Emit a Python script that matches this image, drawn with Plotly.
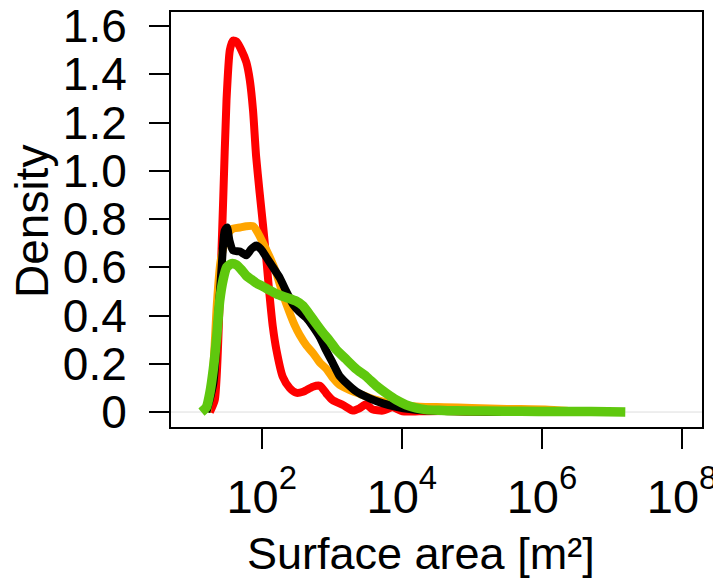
import plotly.graph_objects as go

# log10(surface area) positions and density values
red_logx = [1.26, 1.33, 1.40, 1.45, 1.497, 1.545, 1.59, 1.64, 1.71, 1.78, 1.83, 1.876, 1.92, 1.97,
            2.02, 2.07, 2.11, 2.16, 2.21, 2.30, 2.40, 2.49, 2.59, 2.73, 2.83, 2.92, 3.01, 3.16,
            3.30, 3.395, 3.49, 3.58, 3.73, 3.87, 4.01, 4.25, 4.6, 5.0, 5.4]
red_dens = [0.0, 0.05, 0.46, 0.88, 1.29, 1.50, 1.54, 1.535, 1.50, 1.45, 1.376, 1.25, 1.06, 0.91,
            0.77, 0.62, 0.49, 0.35, 0.257, 0.146, 0.099, 0.08, 0.084, 0.105, 0.109, 0.078, 0.05, 0.029,
            0.006, 0.015, 0.032, 0.011, 0.006, 0.02, 0.003, 0.003, 0.004, 0.001, 0.0]

orange_logx = [1.22, 1.30, 1.36, 1.41, 1.47, 1.52, 1.59, 1.69, 1.78, 1.88, 1.95, 2.02, 2.11, 2.21,
               2.30, 2.40, 2.47, 2.54, 2.64, 2.73, 2.83, 2.92, 3.02, 3.11, 3.25, 3.40, 3.59, 3.78,
               3.97, 4.25, 4.6, 5.0, 5.5, 6.1, 6.6]
orange_dens = [0.0, 0.15, 0.45, 0.62, 0.70, 0.74, 0.76, 0.765, 0.77, 0.77, 0.74, 0.70, 0.645, 0.575,
               0.49, 0.41, 0.36, 0.32, 0.275, 0.245, 0.205, 0.18, 0.14, 0.113, 0.092, 0.075, 0.054, 0.04,
               0.03, 0.022, 0.02, 0.017, 0.013, 0.01, 0.0]

black_logx = [1.21, 1.31, 1.38, 1.43, 1.47, 1.505, 1.54, 1.59, 1.69, 1.78, 1.85, 1.92, 1.99,
              2.07, 2.16, 2.26, 2.35, 2.45, 2.54, 2.64, 2.73, 2.83, 2.92, 3.02, 3.11, 3.21, 3.35,
              3.54, 3.73, 3.92, 4.11, 4.3, 4.6, 5.0, 5.5]
black_dens = [0.0, 0.12, 0.40, 0.61, 0.75, 0.765, 0.71, 0.67, 0.665, 0.65, 0.675, 0.69, 0.675,
              0.64, 0.60, 0.555, 0.50, 0.445, 0.415, 0.39, 0.355, 0.31, 0.255, 0.20, 0.15, 0.12, 0.085,
              0.057, 0.036, 0.022, 0.012, 0.007, 0.004, 0.002, 0.0]

green_logx = [1.14, 1.21, 1.26, 1.31, 1.36, 1.40, 1.45, 1.50, 1.57, 1.64, 1.71, 1.78, 1.85, 1.92,
              2.02, 2.11, 2.21, 2.35, 2.49, 2.59, 2.68, 2.78, 2.87, 2.97, 3.06, 3.20, 3.35, 3.49,
              3.63, 3.78, 3.92, 4.06, 4.20, 4.34, 4.53, 4.77, 5.2, 5.7, 6.2, 6.7, 7.19]
green_dens = [0.0, 0.02, 0.08, 0.18, 0.32, 0.46, 0.55, 0.60, 0.615, 0.61, 0.59, 0.565, 0.55, 0.535,
              0.52, 0.505, 0.49, 0.475, 0.46, 0.44, 0.405, 0.365, 0.33, 0.295, 0.26, 0.22, 0.178, 0.148,
              0.11, 0.077, 0.05, 0.03, 0.017, 0.01, 0.007, 0.005, 0.004, 0.003, 0.002, 0.002, 0.0]

x_tick_exp = [2, 4, 6, 8]
y_tick_vals = [0, 0.2, 0.4, 0.6, 0.8, 1.0, 1.2, 1.4, 1.6]
y_tick_text = ["0", "0.2", "0.4", "0.6", "0.8", "1.0", "1.2", "1.4", "1.6"]

FONT = "Liberation Sans, Arial, sans-serif"

fig = go.Figure()
series = [
    (red_logx, red_dens, "#FF0000", 8),
    (orange_logx, orange_dens, "#FFA500", 8),
    (black_logx, black_dens, "#000000", 8),
    (green_logx, green_dens, "#5FC80E", 9.5),
]
for lx, dens, col, w in series:
    fig.add_trace(go.Scatter(
        x=[10 ** v for v in lx], y=dens, mode="lines",
        line=dict(color=col, width=w, shape="spline", smoothing=0.6),
        showlegend=False, hoverinfo="skip"))

fig.add_shape(type="line", xref="paper", yref="y", x0=0, x1=1, y0=0, y1=0,
              line=dict(color="#DDDDDD", width=1), layer="below")

# page body has an 8px default margin, so the plot area is placed 8px up/left
fig.update_layout(
    width=721, height=582,
    margin=dict(l=163, r=27, t=4, b=163),
    paper_bgcolor="white", plot_bgcolor="white",
    font=dict(family=FONT, size=46, color="black"),
    xaxis=dict(
        type="log", range=[0.705, 8.285], automargin=False,
        tickvals=[10 ** e for e in x_tick_exp],
        ticktext=['10<sup style="baseline-shift:5px">%d</sup>' % e for e in x_tick_exp],
        ticks="outside", ticklen=20, tickwidth=2, tickcolor="black",
        showline=True, mirror=True, linecolor="black", linewidth=2,
        showgrid=False, zeroline=False, ticklabeloverflow="allow",
        tickfont=dict(size=47, family=FONT, color="black"),
        ticklabelstandoff=8,
    ),
    yaxis=dict(
        range=[-0.062, 1.658], automargin=False,
        tickvals=y_tick_vals, ticktext=y_tick_text,
        ticks="outside", ticklen=20, tickwidth=2, tickcolor="black",
        showline=True, mirror=True, linecolor="black", linewidth=2,
        showgrid=False, zeroline=False, ticklabeloverflow="allow",
        tickfont=dict(size=46, family=FONT, color="black"),
        ticklabelstandoff=13,
    ),
    annotations=[
        dict(text="Density", xref="paper", yref="paper", x=(32 - 171) / 531, y=(427 - 222) / 415,
             xanchor="center", yanchor="middle", textangle=-90, showarrow=False,
             font=dict(size=46, family=FONT, color="black")),
        dict(text="Surface area [m²]", xref="paper", yref="paper", x=(421 - 171) / 531,
             y=(427 - 553) / 415, xanchor="center", yanchor="middle", showarrow=False,
             font=dict(size=45, family=FONT, color="black")),
    ],
)

fig.write_html("out.html")
